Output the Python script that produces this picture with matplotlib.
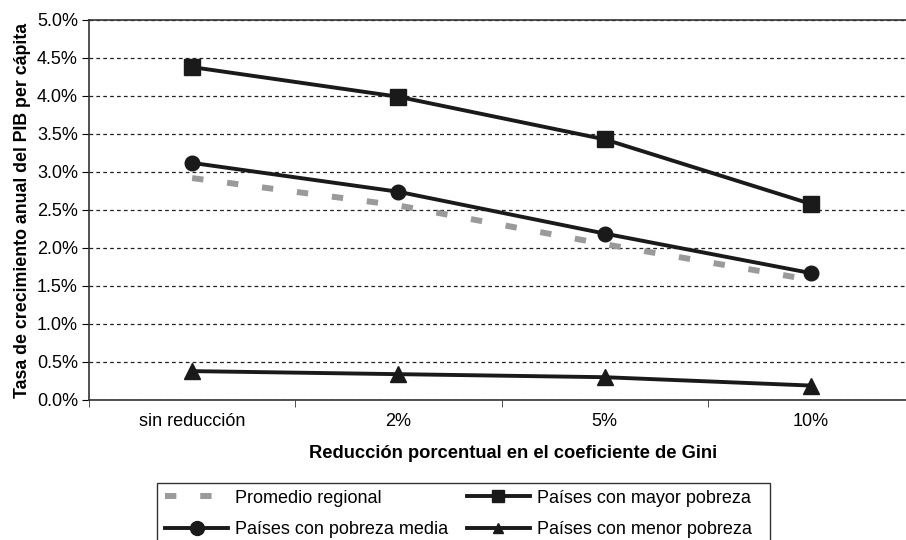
# Crecimiento del PIB per cápita según reducción del coeficiente de Gini

import numpy as np
import matplotlib.pyplot as plt
from matplotlib.ticker import FuncFormatter
from matplotlib.patches import Rectangle
from matplotlib.lines import Line2D

plt.rcParams['font.family'] = ['Liberation Sans', 'DejaVu Sans']

# Categorías del eje x
categorias = ['sin reducción', '2%', '5%', '10%']

# Tasas de crecimiento (%) por grupo de países
promedio_regional = [2.92, 2.56, 2.05, 1.58]
mayor_pobreza = [4.38, 3.99, 3.43, 2.58]
pobreza_media = [3.12, 2.74, 2.19, 1.67]
menor_pobreza = [0.38, 0.34, 0.30, 0.19]

etiquetas = ['Promedio regional', 'Países con mayor pobreza',
             'Países con pobreza media', 'Países con menor pobreza']

fig = plt.figure(figsize=(9.06, 5.4), dpi=100)
ax = fig.add_axes([89/906, 1-400/540, 825/906, 380/540])

x = np.arange(len(categorias))
negro = '#1a1a1a'
gris = '#9a9a9a'

ax.plot(x, promedio_regional, color=gris, lw=4.3, dashes=(1.9, 4.0))
ax.plot(x, mayor_pobreza, color=negro, lw=2.8, marker='s', ms=11.5)
ax.plot(x, pobreza_media, color=negro, lw=2.8, marker='o', ms=10.5)
ax.plot(x, menor_pobreza, color=negro, lw=2.8, marker='^', ms=11)

# Ejes y cuadrícula
ax.set_xlim(-0.5, 3.5)
ax.set_ylim(0, 5.0)
ax.set_yticks(np.arange(0, 5.01, 0.5))
ax.yaxis.set_major_formatter(FuncFormatter(lambda v, p: f'{v:.1f}%'))
ax.set_xticks(x)
ax.set_xticklabels(categorias)
ax.set_xticks(np.arange(-0.5, 3.6, 1), minor=True)
ax.tick_params(axis='x', which='major', length=0, pad=9, labelsize=13)
ax.tick_params(axis='x', which='minor', length=5, direction='out', color='#333333')
ax.tick_params(axis='y', length=5, direction='out', labelsize=13, pad=3)
ax.yaxis.grid(True, color='#222222', ls=(0, (3, 2.5)), lw=0.9)
ax.set_axisbelow(True)
for s in ['left', 'bottom', 'top']:
    ax.spines[s].set_color('#333333')
    ax.spines[s].set_linewidth(1.2)
ax.spines['right'].set_visible(False)

ax.set_ylabel('Tasa de crecimiento anual del PIB per cápita', fontsize=12.8,
              fontweight='bold', labelpad=4)
ax.set_xlabel('Reducción porcentual en el coeficiente de Gini', fontsize=13.2,
              fontweight='bold')
ax.xaxis.set_label_coords(0.514, -0.118)

# Leyenda con marco propio y marcadores más pequeños
fig.patches.append(Rectangle((157/906, -0.05), (770-157)/906, 1.05-483/540,
                             transform=fig.transFigure, fill=False,
                             edgecolor='#333333', lw=1.0))
h_prom = Line2D([], [], color=gris, lw=4.3, dashes=(1.9, 4.0))
h_mayor = Line2D([], [], color=negro, lw=2.8, marker='s', ms=8)
h_media = Line2D([], [], color=negro, lw=2.8, marker='o', ms=10)
h_menor = Line2D([], [], color=negro, lw=2.8, marker='^', ms=6.5)
leg = fig.legend(handles=[h_prom, h_media, h_mayor, h_menor],
                 labels=[etiquetas[0], etiquetas[2], etiquetas[1], etiquetas[3]],
                 ncol=2, loc='center left',
                 bbox_to_anchor=(165/906, 1-514/540), fontsize=13,
                 frameon=False, handlelength=3.5, handletextpad=0.4,
                 columnspacing=1.0, borderpad=0, labelspacing=0.8,
                 borderaxespad=0)

fig.savefig('out.png', dpi=100)
